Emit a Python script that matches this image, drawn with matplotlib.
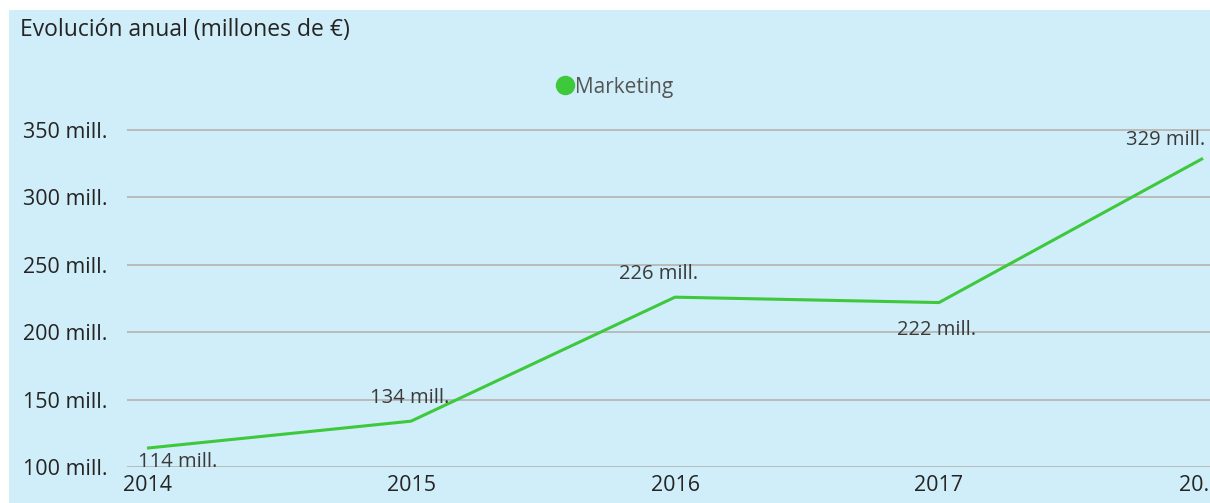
import matplotlib.pyplot as plt
from matplotlib.lines import Line2D
from matplotlib.patches import Rectangle
from matplotlib.transforms import ScaledTranslation

years = ['2014', '2015', '2016', '2017', '2018']
# the last category label is truncated in the source chart
year_labels = ['2014', '2015', '2016', '2017', '20.']
marketing = [114, 134, 226, 222, 329]
value_labels = ['114 mill.', '134 mill.', '226 mill.', '222 mill.', '329 mill.']
label_offsets = [(22, -10), (-1, 16.5), (-11.5, 17), (-2, -20), (-27, 13.5)]
y_ticks = [100, 150, 200, 250, 300, 350]

plt.rcParams['font.family'] = ['Open Sans', 'DejaVu Sans']
green = '#3ec83c'
bg = '#d0eef9'

# figure
fig = plt.figure(figsize=(12.1, 5.03), dpi=100)
fig.patch.set_facecolor('white')
fig.patches.append(Rectangle((9 / 1210, 0), 1, 1 - 10 / 503, transform=fig.transFigure,
                             facecolor=bg, edgecolor='none', zorder=-10))

ax = fig.add_axes([127 / 1210, 36 / 503, 1 - 127 / 1210, (467 - 120.6) / 503])
ax.patch.set_visible(False)
x = list(range(len(years)))
ax.plot(x, marketing, color=green, linewidth=2.2, solid_capstyle='butt', zorder=3)
for i, (v, lab) in enumerate(zip(marketing, value_labels)):
    ax.annotate(lab, (i, v), xytext=label_offsets[i], textcoords='offset points',
                ha='center', va='center', fontsize=14.5, color='#3a3a3a', zorder=4,
                annotation_clip=False)

# format and style
ax.set_xlim(-20 / 264, 4 + 7 / 264)
ax.set_ylim(100, 357)
ax.set_yticks(y_ticks)
ax.set_yticklabels(['{} mill.'.format(t) for t in y_ticks])
ax.set_xticks(x)
ax.set_xticklabels(year_labels)
ax.grid(axis='y', color='#bababa', linewidth=1.4)
ax.set_axisbelow(True)
for s in ax.spines.values():
    s.set_visible(False)
ax.tick_params(axis='both', length=0, labelsize=15.5, colors='#252423')
ax.tick_params(axis='y', pad=14)
ax.tick_params(axis='x', pad=6)
for t in ax.get_yticklabels():
    t.set_horizontalalignment('right')
last = ax.get_xticklabels()[-1]
last.set_horizontalalignment('right')
last.set_transform(last.get_transform() + ScaledTranslation(6 / 100, 0, fig.dpi_scale_trans))

fig.text(20 / 1210, 1 - 30 / 503, 'Evolución anual (millones de €)', fontsize=16.5,
         color='#252423', va='center', ha='left')

handle = Line2D([], [], color=green, marker='o', linestyle='none', markersize=13)
fig.legend([handle], ['Marketing'], loc='center', bbox_to_anchor=(614 / 1210, 1 - 87 / 503),
           frameon=False, fontsize=15, handletextpad=0.0, labelcolor='#555555',
           handlelength=1.0)

fig.savefig('out.png', dpi=100, facecolor='white')
